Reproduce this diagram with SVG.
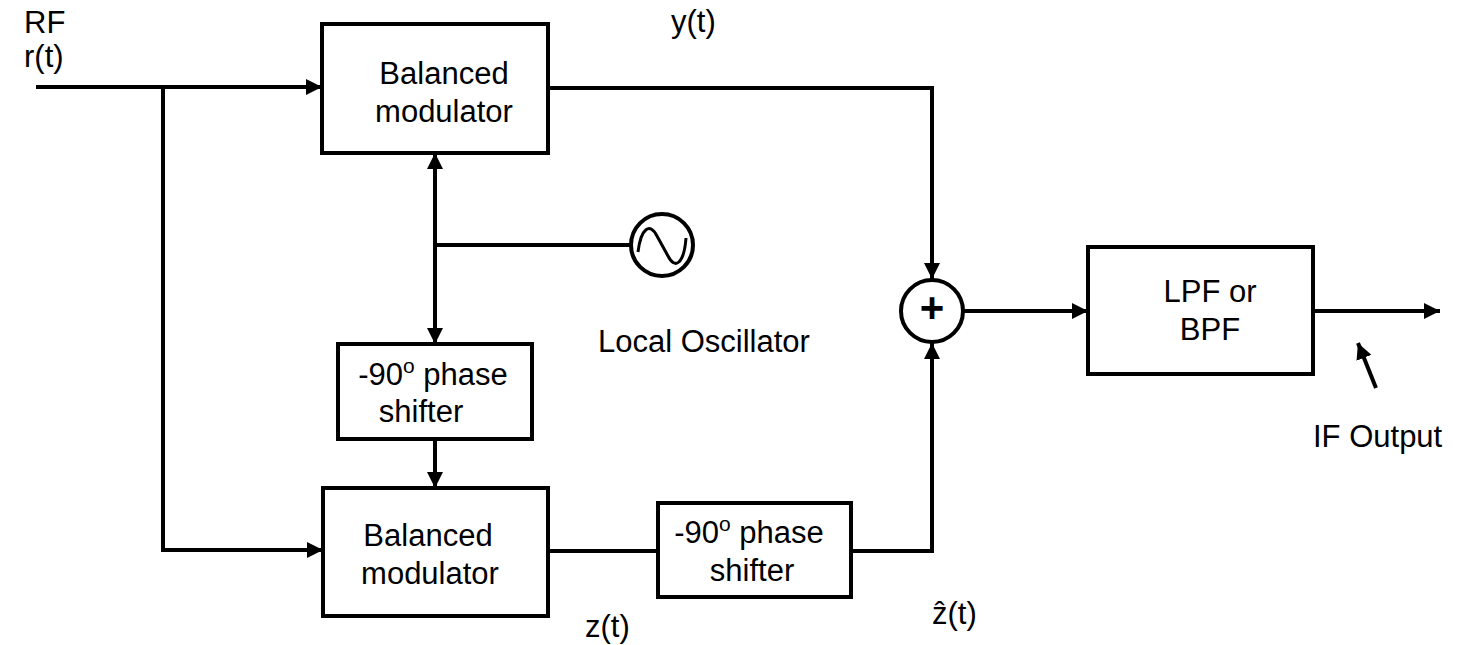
<svg xmlns="http://www.w3.org/2000/svg" width="1460" height="645" viewBox="0 0 1460 645">
<defs>
<marker id="ah" markerUnits="userSpaceOnUse" markerWidth="16" markerHeight="16" viewBox="0 0 16 16" refX="16" refY="8" orient="auto">
<path d="M0,0 L16,8 L0,16 z" fill="#000"/>
</marker>
<style>
.box{fill:#fff;stroke:#000;stroke-width:4}
.ln{fill:none;stroke:#000;stroke-width:4}
.arr{fill:none;stroke:#000;stroke-width:4;marker-end:url(#ah)}
text{font-family:"Liberation Sans",Arial,sans-serif;font-size:31px;fill:#000}
.c{text-anchor:middle}
.sup{font-size:21px}
.plus{font-size:42px;font-weight:bold}
</style>
</defs>
<rect width="1460" height="645" fill="#fff"/>
<g id="connectors">
<line class="arr" x1="36" y1="87" x2="322" y2="87"/>
<polyline class="arr" points="163,87 163,550 323,550"/>
<polyline class="arr" points="548,88 932,88 932,279"/>
<line class="arr" x1="435" y1="245" x2="435" y2="153"/>
<line class="arr" x1="435" y1="245" x2="435" y2="344"/>
<line class="ln" x1="435" y1="245" x2="631" y2="245"/>
<line class="arr" x1="435" y1="439" x2="435" y2="488"/>
<line class="ln" x1="548" y1="551" x2="658" y2="551"/>
<polyline class="arr" points="851,551 932,551 932,343"/>
<line class="arr" x1="964" y1="311" x2="1088" y2="311"/>
<line class="arr" x1="1313" y1="311" x2="1440" y2="311"/>
<line class="arr" x1="1376" y1="388" x2="1358" y2="343"/>
</g>
<g id="rf-label"><text x="24" y="33">RF</text><text x="24" y="67">r(t)</text></g>
<g id="y-label"><text x="671" y="32">y(t)</text></g>
<g id="mod-top"><rect class="box" x="322" y="24" width="226" height="129"/><text class="c" x="444" y="84">Balanced</text><text class="c" x="444" y="122">modulator</text></g>
<g id="oscillator"><circle class="box" cx="662" cy="245" r="31"/><path class="ln" d="M638,252 C641,228 650,222 657,236 L668,256 C675,270 684,264 686,238" style="stroke-width:3"/></g>
<g id="lo-label"><text x="598" y="352">Local Oscillator</text></g>
<g id="shift1"><rect class="box" x="338" y="344" width="194" height="95"/><text class="c" x="433" y="385">-90<tspan class="sup" dy="-12">o</tspan><tspan dy="12"> phase</tspan></text><text class="c" x="421" y="422">shifter</text></g>
<g id="mod-bot"><rect class="box" x="323" y="488" width="225" height="128"/><text class="c" x="428" y="546">Balanced</text><text class="c" x="430" y="584">modulator</text></g>
<g id="shift2"><rect class="box" x="658" y="503" width="193" height="94"/><text class="c" x="749" y="543">-90<tspan class="sup" dy="-12">o</tspan><tspan dy="12"> phase</tspan></text><text class="c" x="752" y="581">shifter</text></g>
<g id="z-label"><text x="585" y="637">z(t)</text></g>
<g id="zhat-label"><text x="932" y="624">ẑ(t)</text></g>
<g id="sum"><circle class="box" cx="932" cy="311" r="31"/><text class="c plus" x="932" y="322">+</text></g>
<g id="filter"><rect class="box" x="1088" y="247" width="225" height="127"/><text class="c" x="1210" y="302">LPF or</text><text class="c" x="1210" y="340">BPF</text></g>
<g id="if-label"><text x="1313" y="447">IF Output</text></g>
</svg>
